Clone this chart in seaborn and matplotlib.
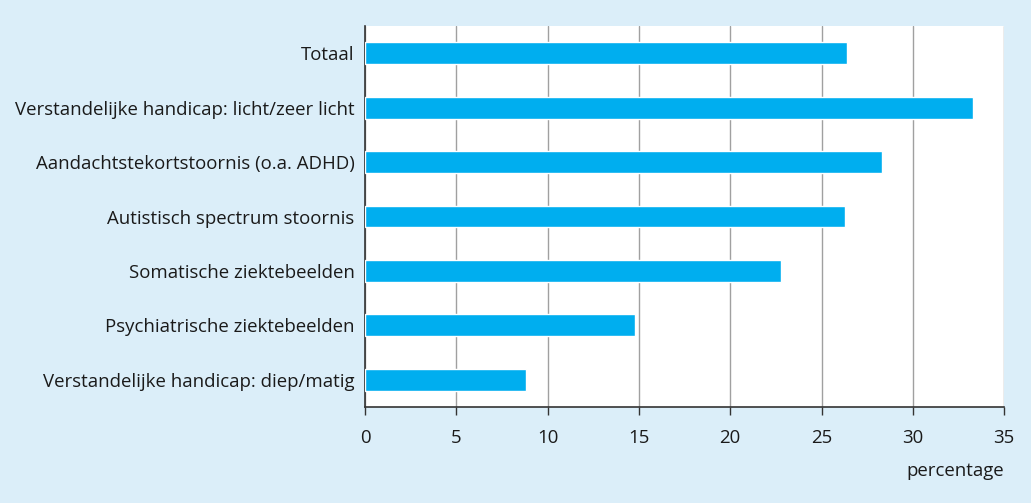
import matplotlib
matplotlib.use("Agg")
import matplotlib.pyplot as plt
import seaborn as sns
import pandas as pd

categories = [
    "Totaal",
    "Verstandelijke handicap: licht/zeer licht",
    "Aandachtstekortstoornis (o.a. ADHD)",
    "Autistisch spectrum stoornis",
    "Somatische ziektebeelden",
    "Psychiatrische ziektebeelden",
    "Verstandelijke handicap: diep/matig",
]
percentages = [26.4, 33.3, 28.3, 26.3, 22.8, 14.8, 8.8]
x_ticks = [0, 5, 10, 15, 20, 25, 30, 35]

df = pd.DataFrame({"categorie": categories, "percentage": percentages})

sns.set_style("white")
plt.rcParams["font.family"] = ["Open Sans", "DejaVu Sans"]

bg = "#dbeef9"
bar_color = "#00aeef"
fs = 13.4

fig = plt.figure(figsize=(10.31, 5.03), dpi=100, facecolor=bg)
ax = fig.add_axes([0.354, 0.191, 0.620, 0.757])
ax.set_facecolor("white")

sns.barplot(data=df, x="percentage", y="categorie", color=bar_color,
            saturation=1, width=0.4, ax=ax, zorder=3)

ax.set_xlim(0, 35)
ax.set_ylim(6.5, -0.5)
ax.set_xticks(x_ticks)
ax.xaxis.grid(True, color="#a0a0a0", linewidth=1, zorder=0)
ax.yaxis.grid(False)
ax.set_axisbelow(True)

for side in ["top", "right"]:
    ax.spines[side].set_visible(False)
for side in ["left", "bottom"]:
    ax.spines[side].set_color("#333333")
    ax.spines[side].set_linewidth(1.2)

ax.tick_params(axis="x", bottom=True, length=6, width=1, color="#333333",
               labelsize=fs, labelcolor="#1a1a1a", pad=10)
ax.tick_params(axis="y", left=False, labelsize=fs, labelcolor="#1a1a1a", pad=4)

ax.set_ylabel("")
ax.set_xlabel("percentage", fontsize=fs, color="#1a1a1a")
ax.xaxis.set_label_coords(1.0, -0.145)
ax.xaxis.label.set_horizontalalignment("right")

fig.savefig("out.png", dpi=100, facecolor=bg)
